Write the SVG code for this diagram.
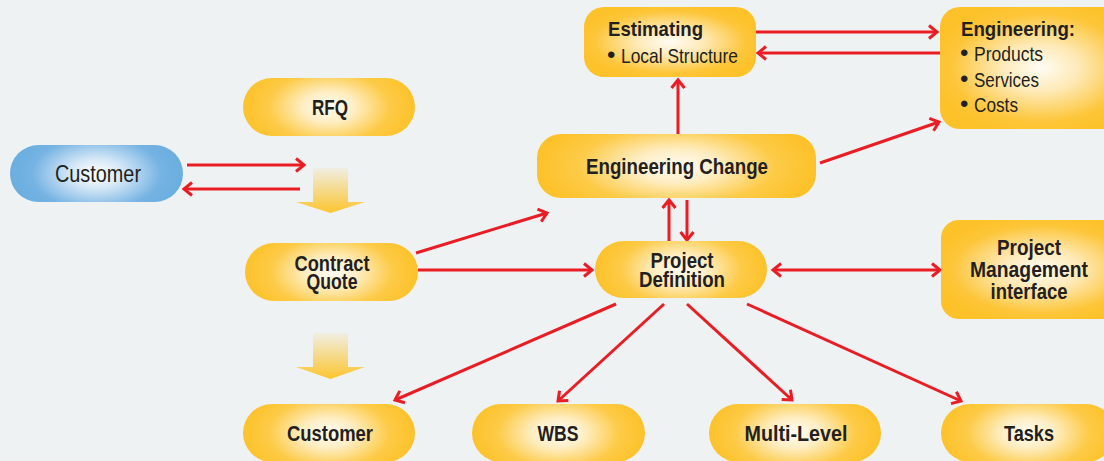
<svg xmlns="http://www.w3.org/2000/svg" width="1104" height="461" viewBox="0 0 1104 461">
  <style>
    .lbl { font-family: 'Liberation Sans', Arial, sans-serif; fill: #231f20; }
    .b { font-weight: bold; font-size: 22px; text-anchor: middle; }
    .r { font-weight: normal; font-size: 21px; }
    .y { fill: url(#gold); }
    .link { stroke: #ea1c24; stroke-width: 3; fill: none; marker-end: url(#chev); }
  </style>
  <defs>
    <radialGradient id="gold" cx="0.5" cy="0.5" r="0.5" gradientTransform="translate(0.5,0.5) scale(1,1.7) translate(-0.5,-0.5)">
      <stop offset="0" stop-color="#fffcf4"/>
      <stop offset="0.3" stop-color="#feeec4"/>
      <stop offset="0.7" stop-color="#fdcb48"/>
      <stop offset="1" stop-color="#fdc22a"/>
    </radialGradient>
    <radialGradient id="goldBox" cx="0.5" cy="0.5" r="0.55">
      <stop offset="0" stop-color="#fffcf4"/>
      <stop offset="0.35" stop-color="#feeab8"/>
      <stop offset="0.8" stop-color="#fdc63a"/>
      <stop offset="1" stop-color="#fdc22a"/>
    </radialGradient>
    <radialGradient id="blue" cx="0.5" cy="0.5" r="0.5" gradientTransform="translate(0.5,0.5) scale(1,1.7) translate(-0.5,-0.5)">
      <stop offset="0" stop-color="#ffffff"/>
      <stop offset="0.3" stop-color="#d6e8f7"/>
      <stop offset="0.75" stop-color="#75b3e3"/>
      <stop offset="1" stop-color="#6aaee0"/>
    </radialGradient>
    <linearGradient id="flow" x1="0" y1="0" x2="0" y2="1">
      <stop offset="0" stop-color="#fdc52e" stop-opacity="0.08"/>
      <stop offset="1" stop-color="#fdc52e" stop-opacity="1"/>
    </linearGradient>
    <marker id="chev" markerUnits="userSpaceOnUse" markerWidth="20" markerHeight="20" viewBox="-12 -10 14 20" refX="0" refY="0" orient="auto-start-reverse">
      <path d="M-8,-6.5 L0,0 L-8,6.5" fill="none" stroke="#ea1c24" stroke-width="3"/>
    </marker>
  </defs>

  <rect width="1104" height="461" fill="#eef2f3"/>

  <!-- process flow arrows -->
  <g id="flow-arrows">
    <polygon points="313,168 348,168 348,202 365,202 330.5,213 296,202 313,202" fill="url(#flow)"/>
    <polygon points="313,333 348,333 348,367 365,367 330.5,379 296,367 313,367" fill="url(#flow)"/>
  </g>

  <g id="connectors">
    <line class="link" x1="187" y1="165" x2="304" y2="165"/>
    <line class="link" x1="300" y1="189" x2="184" y2="189"/>
    <line class="link" x1="416" y1="253" x2="547" y2="213"/>
    <line class="link" x1="418" y1="270" x2="592" y2="270"/>
    <line class="link" x1="669" y1="241" x2="669" y2="200"/>
    <line class="link" x1="687" y1="200" x2="687" y2="240"/>
    <line class="link" x1="678" y1="134" x2="678" y2="80"/>
    <line class="link" x1="756" y1="32" x2="937" y2="32"/>
    <line class="link" x1="940" y1="53" x2="758" y2="53"/>
    <line class="link" x1="820" y1="163" x2="939" y2="122"/>
    <line class="link" x1="773" y1="270" x2="940" y2="270" marker-start="url(#chev)"/>
    <line class="link" x1="616" y1="304" x2="395" y2="400"/>
    <line class="link" x1="664" y1="304" x2="558" y2="401"/>
    <line class="link" x1="687" y1="304" x2="792" y2="400"/>
    <line class="link" x1="747" y1="304" x2="961" y2="401"/>
  </g>

  <g id="customer-top">
    <rect x="10" y="145" width="173" height="57" rx="28.5" fill="url(#blue)"/>
    <text class="lbl" x="98" y="182" font-size="23" text-anchor="middle" textLength="86" lengthAdjust="spacingAndGlyphs">Customer</text>
  </g>

  <g id="rfq">
    <rect class="y" x="243" y="78" width="172" height="58" rx="29"/>
    <text class="lbl b" x="330" y="115" textLength="36" lengthAdjust="spacingAndGlyphs">RFQ</text>
  </g>

  <g id="contract-quote">
    <rect class="y" x="245" y="243" width="173" height="58" rx="29"/>
    <text class="lbl b" font-size="21"><tspan x="332" y="271" textLength="75" lengthAdjust="spacingAndGlyphs">Contract</tspan><tspan x="332" y="289" textLength="51" lengthAdjust="spacingAndGlyphs">Quote</tspan></text>
  </g>

  <g id="estimating">
    <rect x="584" y="7" width="172" height="70" rx="20" fill="url(#goldBox)"/>
    <text class="lbl" x="608" y="36" font-size="21" font-weight="bold" textLength="95" lengthAdjust="spacingAndGlyphs">Estimating</text>
    <text class="lbl r"><tspan x="607" y="63" font-size="24">•</tspan><tspan x="621" y="63" textLength="117" lengthAdjust="spacingAndGlyphs">Local Structure</tspan></text>
  </g>

  <g id="engineering">
    <rect x="940" y="7" width="200" height="122" rx="20" fill="url(#goldBox)"/>
    <text class="lbl" x="961" y="36" font-size="21" font-weight="bold" textLength="114" lengthAdjust="spacingAndGlyphs">Engineering:</text>
    <text class="lbl r"><tspan x="960" y="61" font-size="24">•</tspan><tspan x="974" y="61" textLength="69" lengthAdjust="spacingAndGlyphs">Products</tspan></text>
    <text class="lbl r"><tspan x="960" y="87" font-size="24">•</tspan><tspan x="974" y="87" textLength="65" lengthAdjust="spacingAndGlyphs">Services</tspan></text>
    <text class="lbl r"><tspan x="960" y="112" font-size="24">•</tspan><tspan x="974" y="112" textLength="44" lengthAdjust="spacingAndGlyphs">Costs</tspan></text>
  </g>

  <g id="engineering-change">
    <rect class="y" x="537" y="134" width="279" height="64" rx="24"/>
    <text class="lbl b" x="677" y="174" textLength="182" lengthAdjust="spacingAndGlyphs">Engineering Change</text>
  </g>

  <g id="project-definition">
    <rect class="y" x="595" y="241" width="172" height="57" rx="28.5"/>
    <text class="lbl b" font-size="21"><tspan x="682" y="268" textLength="63" lengthAdjust="spacingAndGlyphs">Project</tspan><tspan x="682" y="287" textLength="86" lengthAdjust="spacingAndGlyphs">Definition</tspan></text>
  </g>

  <g id="pm-interface">
    <rect x="941" y="220" width="200" height="99" rx="18" fill="url(#goldBox)"/>
    <text class="lbl b" font-size="21"><tspan x="1029" y="255" textLength="64" lengthAdjust="spacingAndGlyphs">Project</tspan><tspan x="1029" y="277" textLength="118" lengthAdjust="spacingAndGlyphs">Management</tspan><tspan x="1029" y="299" textLength="77" lengthAdjust="spacingAndGlyphs">interface</tspan></text>
  </g>

  <g id="customer-bottom">
    <rect class="y" x="243" y="404" width="172" height="58" rx="29"/>
    <text class="lbl b" x="330" y="441" textLength="86" lengthAdjust="spacingAndGlyphs">Customer</text>
  </g>

  <g id="wbs">
    <rect class="y" x="472" y="404" width="173" height="58" rx="29"/>
    <text class="lbl b" x="558" y="441" textLength="41" lengthAdjust="spacingAndGlyphs">WBS</text>
  </g>

  <g id="multi-level">
    <rect class="y" x="709" y="404" width="172" height="58" rx="29"/>
    <text class="lbl b" x="796" y="441" textLength="103" lengthAdjust="spacingAndGlyphs">Multi-Level</text>
  </g>

  <g id="tasks">
    <rect class="y" x="941" y="404" width="174" height="58" rx="29"/>
    <text class="lbl b" x="1029" y="441" textLength="50" lengthAdjust="spacingAndGlyphs">Tasks</text>
  </g>
</svg>
